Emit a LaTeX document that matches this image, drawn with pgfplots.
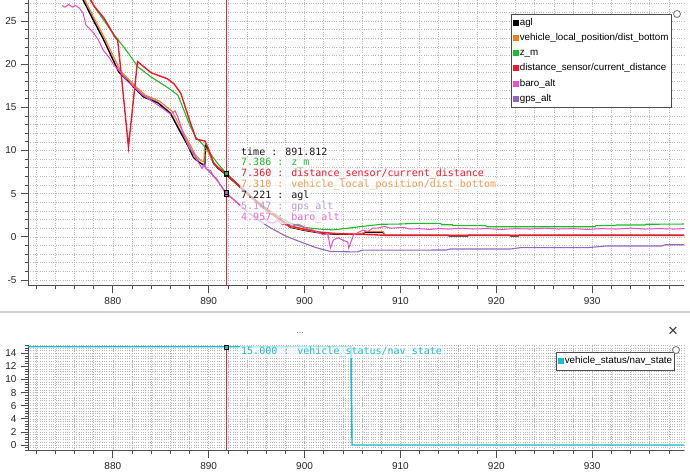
\documentclass[border=0pt]{standalone}
\usepackage{fontspec}
\setmainfont{Liberation Sans}
\newfontfamily\monofont{DejaVu Sans Mono}
\usepackage{pgfplots}
\pgfplotsset{compat=1.18}
\definecolor{cagl}{RGB}{0,0,0}
\definecolor{corange}{RGB}{245,128,30}
\definecolor{cgreen}{RGB}{26,190,40}
\definecolor{cred}{RGB}{245,22,40}
\definecolor{cpink}{RGB}{238,76,200}
\definecolor{cpurple}{RGB}{148,103,189}
\definecolor{ccyan}{RGB}{23,190,207}
\definecolor{ccursor}{RGB}{215,45,45}
\definecolor{gridc}{RGB}{185,185,185}

\tikzset{
  tip/.style={anchor=west, inner xsep=1bp, inner ysep=0.5bp, fill=white, fill opacity=0.65, text opacity=1, font=\monofont\fontsize{10bp}{11bp}\selectfont},
}
\pgfplotsset{
  pjaxis/.style={
    scale only axis,
    axis lines=left,
    axis line style={-, black!70, line width=0.8bp},
    tick align=outside,
    major tick length=7bp,
    minor tick length=3.5bp,
    every tick/.style={black!70, line width=0.7bp},
    grid=both,
    major grid style={gridc, line width=0.6bp, dash pattern=on 0.7bp off 1.6bp},
    minor grid style={gridc, line width=0.6bp, dash pattern=on 0.7bp off 1.6bp},
    /pgf/number format/assume math mode=true,
    /pgf/number format/1000 sep={},
    tick label style={font=\fontsize{10bp}{12bp}\selectfont, text=black!85},
    xticklabel style={yshift=-1bp},
    yticklabel style={xshift=-1bp},
    xmin=871.15, xmax=939.58,
    xtick={880,890,900,910,920,930},
    minor xtick={872,874,...,938},
    legend cell align=left,
    legend image code/.code={\fill (0bp,-2.5bp) rectangle (5bp,2.5bp);},
  },
  cur/.style={only marks, mark=square*, mark size=2bp, mark options={draw=black, line width=0.6bp}},
}

\begin{document}
\begin{tikzpicture}[x=1bp,y=1bp]
\useasboundingbox (0,-472) rectangle (690,0);
\fill[white] (0,-472) rectangle (690,0);
\fill[black!18] (0,-313) rectangle (690,-311);

\begin{axis}[pjaxis,
  at={(28bp,-285.5bp)}, anchor=south west,
  width=656bp, height=285.5bp,
  ymin=-5.64, ymax=27.43,
  ytick={-5,0,5,10,15,20,25},
  minor ytick={-5,-4,...,27},
  legend style={at={(rel axis cs:0.7363,0.951)}, anchor=north west,
     draw=black!70, line width=0.8bp, fill=white,
     font=\fontsize{9.8bp}{11bp}\selectfont,
     inner xsep=2bp, inner ysep=2.8bp, row sep=4.0bp,
     nodes={inner sep=0.6bp, text height=7.5bp, text depth=2.5bp}},
]
% cursor line
\addplot[ccursor, line width=0.9bp, forget plot] coordinates {(891.812,-10) (891.812,30)};
% gps_alt
\addplot[cpurple, line width=1.1bp, forget plot] coordinates {
(876.6,28.5) (877.0,27.4) (878.0,25.2) (879.0,23.0) (880.5,19.5) (881.4,18.3) (882.3,17.3)
(883.2,16.4) (884.7,15.6) (886.0,14.4) (886.9,12.6) (887.8,10.9) (888.4,9.6) (889.0,8.7)
(889.5,8.2) (890.2,7.4) (890.9,6.5) (891.8,5.15) (893.0,3.9) (894.4,2.6) (895.5,1.7)
(896.5,1.0) (898.0,0.1) (899.6,-0.6) (901.2,-1.25) (902.7,-1.7) (905.5,-1.75) (906.0,-1.55)
(914.8,-1.53) (915.2,-1.41) (921.5,-1.41) (922.5,-1.26) (929.5,-1.26) (931.4,-1.07)
(937.3,-1.07) (937.6,-0.92) (939.6,-0.92)};
% agl
\addplot[cagl, line width=1.2bp, forget plot] coordinates {
(876.5,28.5) (876.9,27.4) (878.0,25.0) (879.0,22.9) (880.6,19.1) (881.5,18.1) (882.3,17.2)
(883.2,16.2) (884.7,15.5) (886.0,14.3) (886.9,12.4) (887.8,10.6) (888.4,9.2) (889.0,8.6)
(889.6,8.3) (889.65,10.6) (889.9,10.2) (890.5,8.5) (891.0,7.9) (891.8,7.22) (893.0,6.0)
(894.5,4.5) (896.0,3.1) (897.5,1.9) (898.5,1.1) (899.9,0.75) (901.5,0.45) (903.0,0.3)
(906.0,0.3) (906.3,0.5) (908.2,0.5) (908.4,0.17) (915.0,0.17) (915.1,0.08) (917.0,0.08)
(917.1,0.17) (921.4,0.17) (921.5,0.08) (922.3,0.08) (922.4,0.17) (939.6,0.17)};
% dist_bottom
\addplot[corange, line width=1.1bp, forget plot] coordinates {
(876.7,28.5) (877.1,27.4) (878.2,25.0) (879.2,22.9) (880.8,19.2) (881.7,18.2) (882.5,17.3)
(883.4,16.4) (884.9,15.7) (886.2,14.5) (887.1,12.6) (888.0,10.8) (888.6,9.5) (889.2,8.8)
(889.5,8.7) (889.55,10.0) (889.9,9.9) (890.5,8.6) (891.0,8.0) (891.8,7.31) (893.0,6.05)
(894.5,4.55) (896.0,3.15) (897.5,1.95) (898.5,1.15) (899.9,0.8) (901.5,0.5) (903.0,0.35)
(906.0,0.35) (906.3,0.6) (908.2,0.6) (908.4,0.17) (939.6,0.17)};
% z_m
\addplot[cgreen, line width=1.1bp, forget plot] coordinates {
(877.5,28.0) (878.1,26.6) (879.8,23.9) (881.6,21.3) (882.6,19.7) (884.0,18.5) (885.7,17.3)
(886.8,16.4) (887.4,14.7) (888.0,13.0) (888.6,11.6) (889.3,10.8) (890.2,9.6) (891.0,8.4)
(891.8,7.39) (893.0,6.1) (894.5,4.6) (896.0,3.3) (897.5,2.2) (898.5,1.6) (899.9,1.1)
(901.5,0.9) (903.0,0.8) (904.5,1.0) (906.0,1.2) (908.0,1.45) (910.0,1.48) (911.4,1.56)
(914.2,1.56) (914.3,1.40) (915.4,1.40) (915.5,1.29) (918.9,1.29) (919.0,1.17) (930.3,1.17)
(930.4,1.29) (932.4,1.29) (932.5,1.37) (935.5,1.37) (935.6,1.45) (939.6,1.48)};
% distance_sensor
\addplot[cred, line width=1.4bp, forget plot] coordinates {
(877.4,27.9) (878.0,26.8) (879.1,25.3) (880.3,23.0) (880.5,22.8) (880.76,20.1) (881.63,10.4)
(882.57,20.3) (884.0,19.0) (885.7,18.3) (886.4,17.7) (887.1,16.6) (888.0,13.5) (888.7,11.3)
(889.6,11.1) (889.9,10.4) (890.5,8.6) (891.0,8.0) (891.8,7.36) (893.0,6.1) (894.5,4.6)
(896.0,3.2) (897.5,2.0) (898.5,1.25) (899.9,0.9) (901.5,0.55) (903.0,0.4) (905.0,0.3)
(907.0,0.25) (908.5,0.17) (939.6,0.17)};
% baro_alt
\addplot[cpink, line width=1.0bp, forget plot] coordinates {
(874.7,26.8) (875.0,26.6) (875.4,26.9) (875.8,26.6) (876.1,26.8) (876.5,26.5) (876.9,25.9)
(877.2,24.5) (877.5,24.2) (878.0,23.6) (878.5,22.8) (879.0,21.6) (879.6,20.8) (880.1,19.9)
(880.8,19.1) (881.5,18.0) (882.2,17.4) (883.0,16.5) (883.7,16.0) (884.5,15.4) (885.3,14.8)
(886.0,14.2) (886.5,14.6) (886.8,13.8) (887.5,11.5) (888.0,10.2) (888.4,9.8) (888.7,9.0)
(889.0,8.5) (889.3,7.9) (889.5,8.4) (889.8,7.8) (890.2,7.7) (890.5,7.0) (890.8,6.8)
(891.2,6.0) (891.5,5.5) (891.8,4.96) (892.5,4.4) (893.3,3.7) (894.0,2.9) (894.6,2.4)
(895.3,1.9) (895.8,2.1) (896.3,1.7) (896.7,1.6) (897.2,1.9) (897.7,1.4) (898.2,1.6)
(898.7,1.2) (899.3,1.5) (899.9,1.14) (900.4,0.9) (900.9,0.79) (901.4,0.5) (902.0,0.21)
(902.4,0.4) (902.7,-1.3) (903.0,-0.37) (903.5,-0.1) (904.0,-0.4) (904.5,-0.6) (904.6,-1.3)
(905.1,0.21) (905.6,0.5) (906.1,0.79) (906.6,0.6) (907.1,1.0) (907.6,1.0) (908.3,1.2)
(909.0,1.0) (910.3,1.1) (911,0.9) (912,0.95) (913,0.85) (914,0.95) (915,0.9) (916.5,1.0)
(917.5,0.9) (919,0.95) (920.5,0.85) (922,0.95) (923.5,0.9) (925,1.0) (926.5,0.9) (928,0.95)
(929.5,0.85) (931,0.95) (932.5,0.9) (934,1.0) (935.5,0.9) (937,0.95) (938.5,0.9) (939.6,0.95)};
% cursor markers
\addplot[cur, mark options={fill=cpink}, forget plot] coordinates {(891.812,4.957)};
\addplot[cur, mark options={fill=cpurple}, forget plot] coordinates {(891.812,5.147)};
\addplot[cur, mark options={fill=cagl}, forget plot] coordinates {(891.812,7.221)};
\addplot[cur, mark options={fill=corange}, forget plot] coordinates {(891.812,7.310)};
\addplot[cur, mark options={fill=cred}, forget plot] coordinates {(891.812,7.360)};
\addplot[cur, mark options={fill=cgreen}, forget plot] coordinates {(891.812,7.386)};
% legend
\addlegendimage{color=cagl}\addlegendentry{agl}
\addlegendimage{color=corange}\addlegendentry{vehicle\_local\_position/dist\_bottom}
\addlegendimage{color=cgreen}\addlegendentry{z\_m}
\addlegendimage{color=cred}\addlegendentry{distance\_sensor/current\_distance}
\addlegendimage{color=cpink}\addlegendentry{baro\_alt}
\addlegendimage{color=cpurple}\addlegendentry{gps\_alt}
\end{axis}

% tooltip (top)
\node[tip, text=black!90] at (240,-152) {time : 891.812};
\node[tip, text=cgreen] at (240,-163) {7.386 : z\_m};
\node[tip, text=cred] at (240,-174) {7.360 : distance\_sensor/current\_distance};
\node[tip, text=corange!80] at (240,-185) {7.310 : vehicle\_local\_position/dist\_bottom};
\node[tip, text=black!90] at (240,-196) {7.221 : agl};
\node[tip, text=cpurple!65] at (240,-207) {5.147 : gps\_alt};
\node[tip, text=cpink!85] at (240,-218) {4.957 : baro\_alt};
\draw[black!55, fill=white, line width=0.8bp] (677,-14) circle (3.5);

\begin{axis}[pjaxis,
  at={(28bp,-450.5bp)}, anchor=south west,
  width=656bp, height=105.5bp,
  ymin=-0.84, ymax=15.27,
  ytick={0,2,...,14},
  minor ytick={-0.8,-0.4,...,15.2},
  legend style={at={(rel axis cs:0.8049,0.934)}, anchor=north west,
     draw=black!70, line width=0.8bp, fill=white,
     font=\fontsize{9.8bp}{11bp}\selectfont,
     inner xsep=2bp, inner ysep=3.2bp,
     nodes={inner sep=0.6bp, text height=7.5bp, text depth=2.5bp}},
]
\addplot[ccursor, line width=0.9bp, forget plot] coordinates {(891.812,-2) (891.812,15)};
\addplot[ccyan, line width=1.4bp, forget plot] coordinates {
(871.15,15) (904.85,15) (904.85,11) (904.87,9) (904.9,6) (904.92,4) (904.95,0) (939.58,0)};
\addplot[cur, mark options={fill=ccyan}, forget plot] coordinates {(891.812,15)};
\addlegendimage{color=ccyan}\addlegendentry{vehicle\_status/nav\_state}
\end{axis}
\node[tip, text=ccyan] at (240,-352) {15.000 : vehicle\_status/nav\_state};
\draw[black!55, fill=white, line width=0.8bp] (676,-350) circle (3.5);
\node[text=black!70, font=\fontsize{9bp}{10bp}\selectfont] at (300,-333) {...};
\node[text=black!80, font=\fontsize{17bp}{18bp}\selectfont] at (673,-332) {×};
\end{tikzpicture}
\end{document}
